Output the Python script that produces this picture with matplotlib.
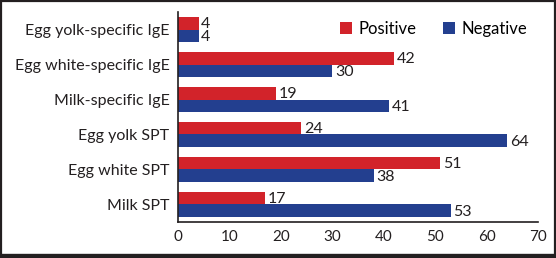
import matplotlib
matplotlib.use("Agg")
import matplotlib.pyplot as plt
import numpy as np
from matplotlib.patches import Rectangle
from matplotlib.lines import Line2D

plt.rcParams["font.family"] = ["Lato", "DejaVu Sans"]
plt.rcParams["font.size"] = 11

CATEGORIES = ["Egg yolk-specific IgE", "Egg white-specific IgE", "Milk-specific IgE",
              "Egg yolk SPT", "Egg white SPT", "Milk SPT"]
POSITIVE = [4, 42, 19, 24, 51, 17]
NEGATIVE = [4, 30, 41, 64, 38, 53]
XTICKS = [0, 10, 20, 30, 40, 50, 60, 70]

RED = "#D2232A"
BLUE = "#233F8F"

fig = plt.figure(figsize=(5.56, 2.58), dpi=100)
ax = fig.add_axes([0.320, 0.140, 0.648, 0.813])

y = np.arange(len(CATEGORIES))
h = 0.36
bp = ax.barh(y - h / 2, POSITIVE, h, color=RED, label="Positive")
bn = ax.barh(y + h / 2, NEGATIVE, h, color=BLUE, label="Negative")
for bars, vals in ((bp, POSITIVE), (bn, NEGATIVE)):
    for b, v in zip(bars, vals):
        ax.text(b.get_width() + 0.5, b.get_y() + b.get_height() / 2 + 0.03, str(v),
                va="center", ha="left", fontsize=11.5, color="#231F20")

ax.set_yticks(y)
ax.set_yticklabels(CATEGORIES, color="#231F20", fontsize=11.5)
ax.set_ylim(len(CATEGORIES) - 0.5, -0.5)
ax.set_xlim(0, 70)
ax.set_xticks(XTICKS)
ax.tick_params(axis="x", labelsize=11)
ax.tick_params(length=0, pad=6, colors="#231F20")
for s in ("top", "right"):
    ax.spines[s].set_visible(False)
for s in ("left", "bottom"):
    ax.spines[s].set_color("#231F20")
    ax.spines[s].set_linewidth(1.2)

ax.legend(loc="upper right", ncol=2, frameon=False, handlelength=0.75, handleheight=0.75,
          columnspacing=1.6, handletextpad=0.35, fontsize=12, bbox_to_anchor=(1.01, 1.03))

fig.patches.append(Rectangle((0.002, 0.01), 0.996, 0.985, transform=fig.transFigure,
                             fill=False, edgecolor="#231F20", linewidth=1.6))
fig.lines.append(Line2D([0, 1], [0.008, 0.008], transform=fig.transFigure,
                        color="#231F20", linewidth=3))

fig.savefig("out.png", dpi=100)
